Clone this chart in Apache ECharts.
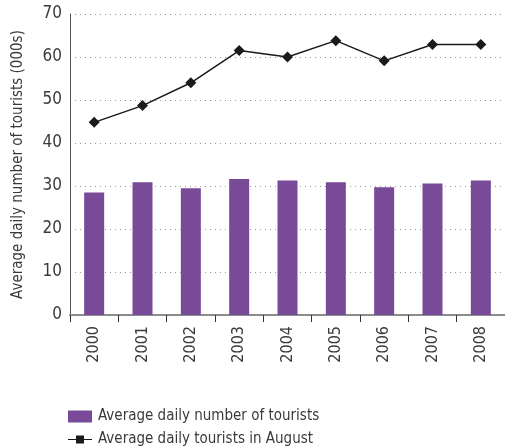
<!DOCTYPE html>
<html>
<head>
<meta charset="utf-8">
<script src="https://cdn.jsdelivr.net/npm/echarts@6/dist/echarts.min.js"></script>
<style>
  html, body { margin: 0; padding: 0; background: #fff; }
  #chart { width: 505px; height: 447px; }
</style>
</head>
<body>
<div id="chart"></div>
<script>
// Years on the category axis
const years = ['2000', '2001', '2002', '2003', '2004', '2005', '2006', '2007', '2008'];
// Average daily number of tourists (000s), whole year
const dailyTourists = [28.5, 30.9, 29.5, 31.6, 31.3, 30.9, 29.7, 30.6, 31.3];
// Average daily number of tourists (000s), August only
const augustTourists = [44.8, 48.7, 54.0, 61.5, 60.0, 63.8, 59.1, 62.9, 62.9];
// Value axis settings
const yMin = 0, yMax = 70, yStep = 10;

const FONT = '"DejaVu Sans Condensed", "Liberation Sans Narrow", sans-serif';
const TEXT = '#3a3a3a';
const PURPLE = '#784a97';

const legendText = { fontFamily: FONT, fontSize: 15, color: TEXT, padding: [0, 0, 0, 1] };

const chart = echarts.init(document.getElementById('chart'), null, { renderer: 'canvas' });
chart.setOption({
  animation: false,
  grid: { left: 70, right: 0, top: 14, bottom: 132, containLabel: false, outerBoundsMode: 'none' },
  legend: [
    {
      left: 63, top: 404,
      itemWidth: 24, itemHeight: 12,
      textStyle: legendText,
      data: [{ name: 'Average daily number of tourists', icon: 'rect' }]
    },
    {
      left: 63, top: 427,
      itemWidth: 24, itemHeight: 8,
      textStyle: legendText,
      data: [{ name: 'Average daily tourists in August',
               icon: 'path://M0,3.4H8V0H16V3.4H24V4.6H16V8H8V4.6H0Z' }]
    }
  ],
  xAxis: {
    type: 'category',
    data: years,
    boundaryGap: true,
    axisLine: { lineStyle: { color: '#8c8c8c', width: 2 } },
    axisTick: { show: true, length: 7, alignWithLabel: false, lineStyle: { color: '#333', width: 1 } },
    axisLabel: { rotate: 90, margin: 11, fontFamily: FONT, fontSize: 16, color: TEXT }
  },
  yAxis: {
    type: 'value',
    min: yMin, max: yMax, interval: yStep,
    name: 'Average daily number of tourists (000s)',
    nameLocation: 'middle',
    nameGap: 44,
    nameTextStyle: { fontFamily: FONT, fontSize: 15, color: TEXT },
    axisLine: { show: true, lineStyle: { color: '#555', width: 1 } },
    axisTick: { show: false },
    axisLabel: { margin: 8, fontFamily: FONT, fontSize: 17, color: TEXT },
    splitLine: { show: true, lineStyle: { color: '#999', type: [1, 4], width: 1 } }
  },
  series: [
    {
      name: 'Average daily number of tourists',
      type: 'bar',
      data: dailyTourists,
      barWidth: 20,
      itemStyle: { color: PURPLE },
      z: 2
    },
    {
      name: 'Average daily tourists in August',
      type: 'line',
      data: augustTourists,
      symbol: 'diamond',
      symbolSize: 11,
      itemStyle: { color: '#1a1a1a' },
      lineStyle: { color: '#1a1a1a', width: 1.5 },
      z: 3
    }
  ]
});
</script>
</body>
</html>
